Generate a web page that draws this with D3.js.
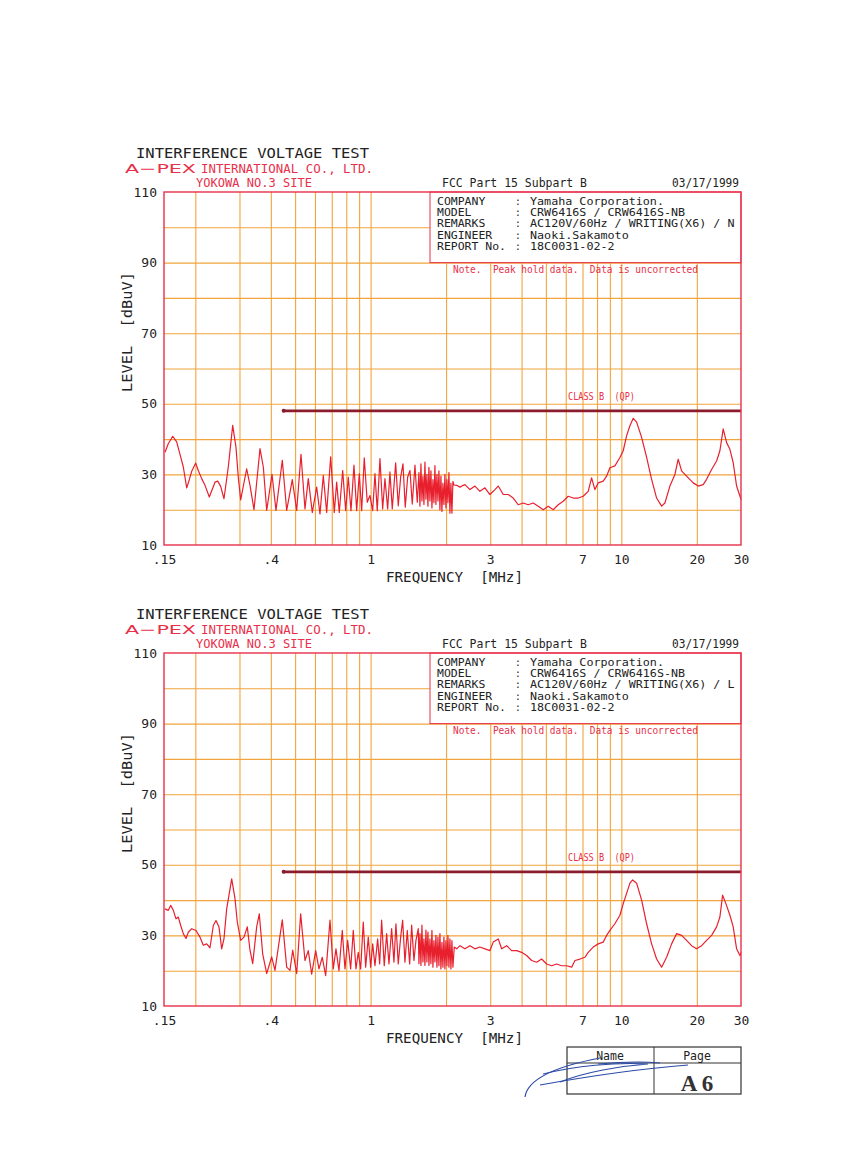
<!DOCTYPE html>
<html>
<head>
<meta charset="utf-8">
<script src="https://cdn.jsdelivr.net/npm/d3@7"></script>
<style>
body { margin: 0; background: #fff; }
svg { display: block; }
</style>
</head>
<body>
<svg id="page" width="847" height="1167"></svg>
<script>
// ---- data (MHz / dBuV) ----
// top plot: line N
const freqN = [0.1514,0.1560,0.1625,0.1685,0.1749,0.1791,0.1848,0.1892,0.1935,0.2007,0.2055,0.2120,0.2186,0.2274,0.2396,0.2456,0.2524,0.2602,0.2707,0.2819,0.2905,0.2967,0.3033,0.3205,0.3304,0.3428,0.3622,0.3734,0.3852,0.4044,0.4195,0.4445,0.4628,0.4872,0.5073,0.5277,
  0.5474,0.5643,0.5854,0.6095,0.6282,0.6476,0.6681,0.6931,0.7164,0.7323,0.7500,0.7739,0.7955,0.8147,0.8351,0.8584,0.8799,0.9012,0.9213,0.9435,0.9698,0.9942,1.0191,1.0409,1.0631,1.0897,1.1171,1.1409,1.1695,1.1945,1.2200,1.2587,1.2891,1.3178,1.3459,1.3746,1.4052,1.4353,1.4659,1.5028,1.5348,
  1.5588,1.5731,1.5876,1.6023,1.6170,1.6319,1.6470,1.6622,1.6775,1.6930,1.7086,1.7243,1.7402,1.7563,1.7725,1.7888,1.8053,1.8219,1.8387,1.8557,1.8728,1.8901,1.9075,1.9251,1.9428,1.9607,1.9788,1.9970,2.0154,2.0340,2.0528,2.0717,2.0908,2.1101,2.1295,2.1498,2.2038,2.2715,2.3414,
  2.3782,2.4897,2.6067,2.7292,2.8574,2.9917,3.1324,3.2289,3.3804,3.5392,3.7053,3.8793,4.0615,4.2522,4.4519,4.6609,4.8798,5.1090,5.3489,5.6001,5.8631,6.1384,6.4267,6.7284,7.0444,7.3752,7.6089,7.8434,8.0847,8.4644,8.7330,9.0018,9.4245,9.8690,10.173,10.496,10.818,11.151,11.505,12.045,12.611,13.203,13.823,14.472,14.918,15.618,16.351,16.854,17.388,18.205,19.341,20.250,21.201,21.874,22.902,23.977,24.716,25.476,26.285,27.094,27.929,28.815,30.0];
const levelN = [36.3,38.7,40.8,39.2,34.9,32.1,26.2,28.5,30.9,33.2,31.1,28.8,26.9,23.6,27.8,28.1,26.6,23.1,32.1,43.9,37.7,29.2,22.8,31.6,26.9,20.0,37.3,32.1,19.8,30.0,19.8,34.0,19.8,28.5,19.8,35.7,
  20.2,28.8,19.2,26.4,18.8,29.7,19.2,35.0,19.2,27.8,19.2,31.1,19.7,29.2,19.7,32.6,19.7,30.2,19.7,34.7,22.1,24.0,19.7,30.2,19.7,34.5,20.2,28.8,20.2,30.7,20.2,33.3,21.1,29.2,33.0,20.7,29.2,31.1,21.6,32.6,22.1,
  30.5,21.0,33.0,22.5,29.5,21.5,33.5,23.0,30.0,21.0,32.0,22.5,31.0,20.5,28.5,22.0,32.5,21.5,30.0,22.5,31.0,20.0,29.5,19.5,27.5,21.5,30.0,20.5,28.5,22.0,30.5,19.0,27.5,19.0,28.0,27.0,26.9,26.4,26.9,
  27.1,25.7,26.7,25.2,26.2,24.3,25.7,26.7,24.3,24.3,23.3,21.4,21.9,21.4,21.9,21.0,20.0,21.0,20.0,21.4,22.4,23.8,23.3,23.3,23.8,25.2,29.0,25.7,27.6,28.1,29.5,31.9,32.4,34.8,36.7,41.0,43.8,45.9,44.8,40.5,34.8,28.6,23.3,21.0,21.9,26.7,30.0,34.3,31.0,29.5,27.6,26.7,27.1,28.6,31.4,33.8,36.7,42.9,39.0,37.1,33.3,26.7,22.9];

// bottom plot: line L
const freqL = [0.1514,0.1560,0.1595,0.1634,0.1675,0.1710,0.1749,0.1791,0.1836,0.1875,0.1935,0.2012,0.2088,0.2152,0.2220,0.2288,0.2359,0.2418,0.2485,0.2548,0.2602,0.2667,0.2793,0.2879,0.2940,0.3033,0.3126,0.3223,0.3304,0.3387,0.3513,0.3598,0.3712,0.3852,0.4032,0.4156,0.4445,0.4628,0.4770,0.4890,0.5073,0.5262,0.5474,
  0.5643,0.5821,0.6039,0.6225,0.6416,0.6620,0.6886,0.7098,0.7276,0.7479,0.7709,0.7903,0.8101,0.8327,0.8529,0.8743,0.8929,0.9128,0.9349,0.9557,0.9788,1.0006,1.0191,1.0409,1.0668,1.0866,1.1067,1.1335,1.1588,1.1835,1.2132,1.2391,1.2620,1.2891,1.3178,1.3423,1.3709,1.4002,1.4314,1.4579,1.4891,1.5167,1.5491,
  1.5588,1.5731,1.5876,1.6023,1.6170,1.6319,1.6470,1.6622,1.6775,1.6930,1.7086,1.7243,1.7402,1.7563,1.7725,1.7888,1.8053,1.8219,1.8387,1.8557,1.8728,1.8901,1.9075,1.9251,1.9428,1.9607,1.9788,1.9970,2.0154,2.0340,2.0528,2.0717,2.0908,2.1101,2.1295,2.1560,2.2038,
  2.2715,2.3782,2.4897,2.6067,2.7292,2.8574,2.9917,3.0838,3.2289,3.3311,3.4876,3.6515,3.8231,4.0025,4.1906,4.3874,4.5936,4.8095,5.0354,5.2719,5.5197,5.7789,6.0504,6.3347,6.5295,6.8363,7.1574,7.3752,7.7241,8.0847,8.4644,8.7330,9.0018,9.4245,9.8690,10.173,10.496,10.818,11.089,11.505,12.045,12.611,13.203,13.823,14.472,15.153,15.865,16.610,17.388,18.205,19.065,19.961,20.897,21.874,22.902,23.977,24.716,25.337,26.115,27.094,27.929,28.815,29.70,30.0];
const levelL = [37.5,37.1,38.5,37.1,34.7,35.2,32.8,30.5,29.1,30.9,31.9,31.4,29.5,27.2,27.6,26.5,32.8,34.2,32.4,26.2,29.1,37.5,46.0,40.4,33.8,28.6,29.5,32.4,25.8,22.0,32.4,36.1,24.8,19.2,23.9,20.1,34.4,21.0,20.1,25.8,19.2,36.1,22.9,
  25.7,19.0,25.7,20.5,23.8,18.6,34.3,20.5,26.2,20.0,31.4,20.5,28.6,20.5,31.4,20.5,25.2,20.5,33.8,21.0,29.5,21.0,27.6,21.4,29.0,21.9,34.3,21.4,30.5,21.9,31.9,22.4,33.3,21.9,29.5,34.3,22.4,31.4,21.9,32.9,22.9,28.6,31.9,
  22.0,30.5,21.5,32.9,22.5,29.0,21.5,31.5,22.5,30.9,21.5,29.0,22.0,31.4,21.0,28.5,22.5,30.0,21.0,29.5,21.4,30.5,20.5,28.0,21.0,29.5,20.5,28.5,21.4,30.0,21.0,29.0,20.5,28.5,21.0,26.7,26.2,
  27.1,26.2,27.1,26.2,26.7,26.2,25.7,28.1,29.0,26.2,27.1,25.7,25.7,25.2,24.3,22.9,22.4,23.3,21.9,21.4,21.9,21.4,21.4,21.0,22.9,23.3,23.8,25.2,26.7,27.6,28.1,30.0,31.4,33.3,35.7,39.0,41.9,44.8,45.7,44.8,40.0,33.3,27.6,23.3,21.0,23.8,27.6,30.5,30.0,28.6,27.1,26.2,27.1,28.6,30.0,32.4,35.2,41.4,39.0,35.7,32.4,26.2,24.3,25.2];

// limit line (Class B QP)
const limitFreq = [0.45, 30];
const limitLevel = [48, 48];

// axes
const xTickVals = [0.15, 0.4, 1, 3, 7, 10, 20, 30];
const xTickText = [".15", ".4", "1", "3", "7", "10", "20", "30"];
const xGridVals = [0.2,0.3,0.4,0.5,0.6,0.7,0.8,0.9,1,2,3,4,5,6,7,8,9,10,20];
const yTickVals = [10, 30, 50, 70, 90, 110];
const yGridVals = [20, 30, 40, 50, 60, 70, 80, 90, 100];

// header block
const infoLabels = ["COMPANY", "MODEL", "REMARKS", "ENGINEER", "REPORT No."];
const infoValuesN = ["Yamaha Corporation.", "CRW6416S / CRW6416S-NB", "AC120V/60Hz / WRITING(X6) / N", "Naoki.Sakamoto", "18C0031-02-2"];
const infoValuesL = ["Yamaha Corporation.", "CRW6416S / CRW6416S-NB", "AC120V/60Hz / WRITING(X6) / L", "Naoki.Sakamoto", "18C0031-02-2"];

const RED = "#e8304a", GRID = "#f2a53c", TRACE = "#e8202e", LIMIT = "#8b1c2c", INK = "#222";
const MONO = "'DejaVu Sans Mono', 'Liberation Mono', monospace";

const svg = d3.select("#page");
svg.append("rect").attr("width", 847).attr("height", 1167).attr("fill", "#fff");

const x = d3.scaleLog().domain([0.15, 30]).range([164, 741]);
const y = d3.scaleLinear().domain([10, 110]).range([545, 192]);
const plotW = 577, plotH = 353;

function label(g, txt, px, py, size, fill, len) {
  const t = g.append("text").attr("x", px).attr("y", py).attr("font-size", size).attr("fill", fill)
    .style("font-family", MONO).style("white-space", "pre").text(txt);
  if (len) t.attr("textLength", len).attr("lengthAdjust", "spacingAndGlyphs");
  return t;
}

function drawChart(offsetY, freq, level, infoValues) {
  const g = svg.append("g").attr("transform", "translate(0," + offsetY + ")");

  // titles
  label(g, "INTERFERENCE VOLTAGE TEST", 136, 158, 14, INK, 233);
  label(g, "A\u2212PEX", 125, 172.5, 12.5, RED, 71).style("font-family", "'DejaVu Sans', sans-serif");
  label(g, "INTERNATIONAL CO., LTD.", 201, 172.5, 12, RED, 172);
  label(g, "YOKOWA NO.3 SITE", 196, 187, 12.5, RED, 116);
  label(g, "FCC Part 15 Subpart B", 442, 187, 12, INK, 145);
  label(g, "03/17/1999", 672, 187, 12, INK, 67);

  // grid
  const gx = g.append("g").attr("transform", "translate(0," + y(10) + ")")
    .call(d3.axisBottom(x).tickValues(xGridVals).tickSize(-plotH).tickFormat(""));
  const gy = g.append("g").attr("transform", "translate(" + x(0.15) + ",0)")
    .call(d3.axisLeft(y).tickValues(yGridVals).tickSize(-plotW).tickFormat(""));
  [gx, gy].forEach(a => {
    a.select(".domain").remove();
    a.selectAll("line").attr("stroke", GRID).attr("stroke-width", 1.1);
  });

  // info box over the grid
  g.append("rect").attr("x", 430).attr("y", y(110)).attr("width", x(30) - 430)
    .attr("height", y(90) - y(110)).attr("fill", "#fff").attr("stroke", RED).attr("stroke-width", 1);
  infoLabels.forEach((lab, i) => {
    const by = 204.5 + i * 11.4;
    label(g, lab, 437, by, 9.6, INK, lab.length * 6.9);
    label(g, ":", 515, by, 9.6, INK);
    label(g, infoValues[i], 530, by, 9.6, INK, infoValues[i].length * 7.05);
  });
  label(g, "Note.  Peak hold data.  Data is uncorrected", 453, 273, 9.6, RED, 245);

  // limit line
  const pts = limitFreq.map((f, i) => [f, limitLevel[i]]);
  g.append("path").datum(pts)
    .attr("d", d3.line().x(d => x(d[0])).y(d => y(d[1])))
    .attr("stroke", LIMIT).attr("stroke-width", 2.6).attr("fill", "none");
  g.append("circle").attr("cx", x(limitFreq[0])).attr("cy", y(limitLevel[0])).attr("r", 2).attr("fill", LIMIT);
  label(g, "CLASS B  (QP)", 568, y(48) - 11, 9.6, RED, 67);

  // trace
  const data = freq.map((f, i) => [f, level[i]]);
  g.append("path").datum(data)
    .attr("d", d3.line().x(d => x(d[0])).y(d => y(d[1])))
    .attr("stroke", TRACE).attr("stroke-width", 1.2).attr("fill", "none")
    .attr("stroke-linejoin", "round");

  // frame
  g.append("rect").attr("x", x(0.15)).attr("y", y(110)).attr("width", plotW).attr("height", plotH)
    .attr("fill", "none").attr("stroke", RED).attr("stroke-width", 1.4);

  // tick labels
  const ax = g.append("g").attr("transform", "translate(0," + y(10) + ")")
    .call(d3.axisBottom(x).tickValues(xTickVals).tickSize(0).tickPadding(10)
      .tickFormat((d, i) => xTickText[i]));
  const ay = g.append("g").attr("transform", "translate(" + x(0.15) + ",0)")
    .call(d3.axisLeft(y).tickValues(yTickVals).tickSize(0).tickPadding(7));
  [ax, ay].forEach(a => {
    a.select(".domain").remove();
    a.selectAll("text").style("font-family", MONO).attr("font-size", 13).attr("fill", INK);
  });

  // axis titles
  g.append("text").attr("transform", "translate(132,332) rotate(-90)").attr("text-anchor", "middle")
    .attr("font-size", 14.5).attr("fill", INK).attr("textLength", 120).attr("lengthAdjust", "spacingAndGlyphs")
    .style("font-family", MONO).style("white-space", "pre").text("LEVEL  [dBuV]");
  label(g, "FREQUENCY  [MHz]", 386, 582, 14.5, INK, 137);
}

drawChart(0, freqN, levelN, infoValuesN);
drawChart(461, freqL, levelL, infoValuesL);

// sign-off box
const sb = svg.append("g");
sb.append("rect").attr("x", 567).attr("y", 1047).attr("width", 174).attr("height", 47)
  .attr("fill", "none").attr("stroke", "#333").attr("stroke-width", 1.2);
sb.append("line").attr("x1", 567).attr("x2", 741).attr("y1", 1063).attr("y2", 1063).attr("stroke", "#333");
sb.append("line").attr("x1", 654).attr("x2", 654).attr("y1", 1047).attr("y2", 1094).attr("stroke", "#333");
label(sb, "Name", 610, 1060, 11.5, INK).attr("text-anchor", "middle");
label(sb, "Page", 697, 1060, 11.5, INK).attr("text-anchor", "middle");
sb.append("text").attr("x", 697).attr("y", 1091).attr("text-anchor", "middle").attr("font-size", 23)
  .attr("font-weight", "bold").style("font-family", "'Liberation Serif', serif").style("white-space", "pre")
  .attr("fill", "#333").text("A 6");

// signature scribble
const sig = ["M525,1097 C527,1082 548,1068 600,1058",
  "M543,1074 C575,1066 615,1062 648,1064 C620,1066 585,1072 560,1082",
  "M540,1085 C590,1076 650,1068 688,1065",
  "M598,1064 C620,1062 640,1061 660,1063"];
sig.forEach(d => svg.append("path").attr("d", d).attr("fill", "none")
  .attr("stroke", "#2a4aa6").attr("stroke-width", 1.2));
</script>
</body>
</html>
